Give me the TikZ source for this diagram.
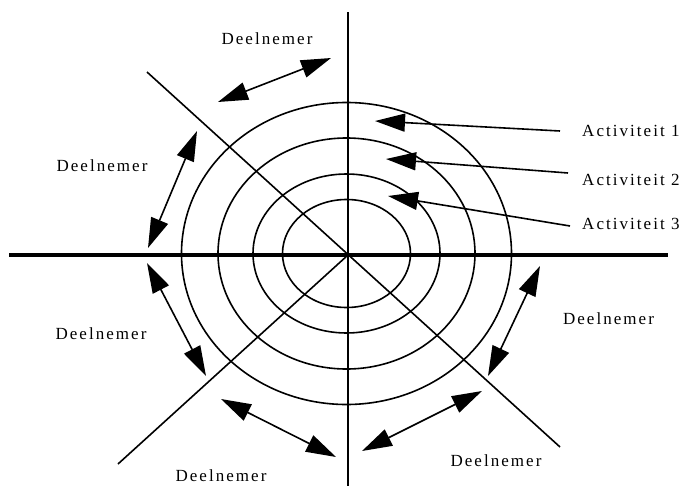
\documentclass[tikz,border=0pt]{standalone}
\usepackage{fontspec}
\setmainfont{Liberation Serif}[LetterSpace=12]
\usetikzlibrary{arrows.meta}
\begin{document}
\begin{tikzpicture}[x=1pt,y=-1pt,
  thin line/.style={line width=1.6pt},
  axis line/.style={line width=3.4pt},
  tri/.tip={Triangle[length=30pt,width=18pt]},
  twoway/.style={thin line,{tri}-{tri}},
  oneway/.style={thin line,-{tri}},
  lbl/.style={font=\fontsize{17}{20}\selectfont,inner sep=0pt}]
\useasboundingbox (0,0) rectangle (681,490);
% axes
\coordinate (hl) at (9,255);
\coordinate (hr) at (668,255);
\coordinate (vt) at (348,12);
\coordinate (vb) at (348,486);
\coordinate (c) at (348,255);
\coordinate (d1a) at (147,72);
\coordinate (d1b) at (560,447);
\coordinate (d2a) at (118,464);
\draw[axis line] (hl) -- (hr);
\draw[thin line] (vt) -- (vb);
\draw[thin line] (d1a) -- (d1b);
\draw[thin line] (d2a) -- (c);
% ellipses
\coordinate (ec) at (346.5,253.5);
\draw[thin line] (ec) ellipse [x radius=165,y radius=151];
\draw[thin line] (ec) ellipse [x radius=128.5,y radius=115.5];
\draw[thin line] (ec) ellipse [x radius=93.5,y radius=79.5];
\draw[thin line] (ec) ellipse [x radius=64,y radius=54];
% labels
\node[lbl,anchor=base] (p1) at (267,44) {Deelnemer};
\node[lbl,anchor=base] (p2) at (102,171) {Deelnemer};
\node[lbl,anchor=base] (p3) at (101,339) {Deelnemer};
\node[lbl,anchor=base] (p4) at (221,481.5) {Deelnemer};
\node[lbl,anchor=base] (p5) at (496,466.5) {Deelnemer};
\node[lbl,anchor=base] (p6) at (608.5,324) {Deelnemer};
\node[lbl,anchor=base west] (a1) at (582,136.5) {Activiteit 1};
\node[lbl,anchor=base west] (a2) at (582,185.5) {Activiteit 2};
\node[lbl,anchor=base west] (a3) at (582,229) {Activiteit 3};
% double arrows
\coordinate (t1a) at (218,102); \coordinate (t1b) at (331,58);
\coordinate (t2a) at (197,131); \coordinate (t2b) at (148,248);
\coordinate (t3a) at (147,263); \coordinate (t3b) at (206,376);
\coordinate (t4a) at (221,399); \coordinate (t4b) at (336,457);
\coordinate (t5a) at (362,451); \coordinate (t5b) at (482,391);
\coordinate (t6a) at (488,376); \coordinate (t6b) at (540,266);
\draw[twoway] (t1a) -- (t1b);
\draw[twoway] (t2a) -- (t2b);
\draw[twoway] (t3a) -- (t3b);
\draw[twoway] (t4a) -- (t4b);
\draw[twoway] (t5a) -- (t5b);
\draw[twoway] (t6a) -- (t6b);
% activity arrows
\coordinate (s1) at (560,131); \coordinate (e1) at (375,121);
\coordinate (s2) at (568,173); \coordinate (e2) at (386,159);
\coordinate (s3) at (570,226); \coordinate (e3) at (388,196);
\draw[oneway] (s1) -- (e1);
\draw[oneway] (s2) -- (e2);
\draw[oneway] (s3) -- (e3);
\end{tikzpicture}
\end{document}
